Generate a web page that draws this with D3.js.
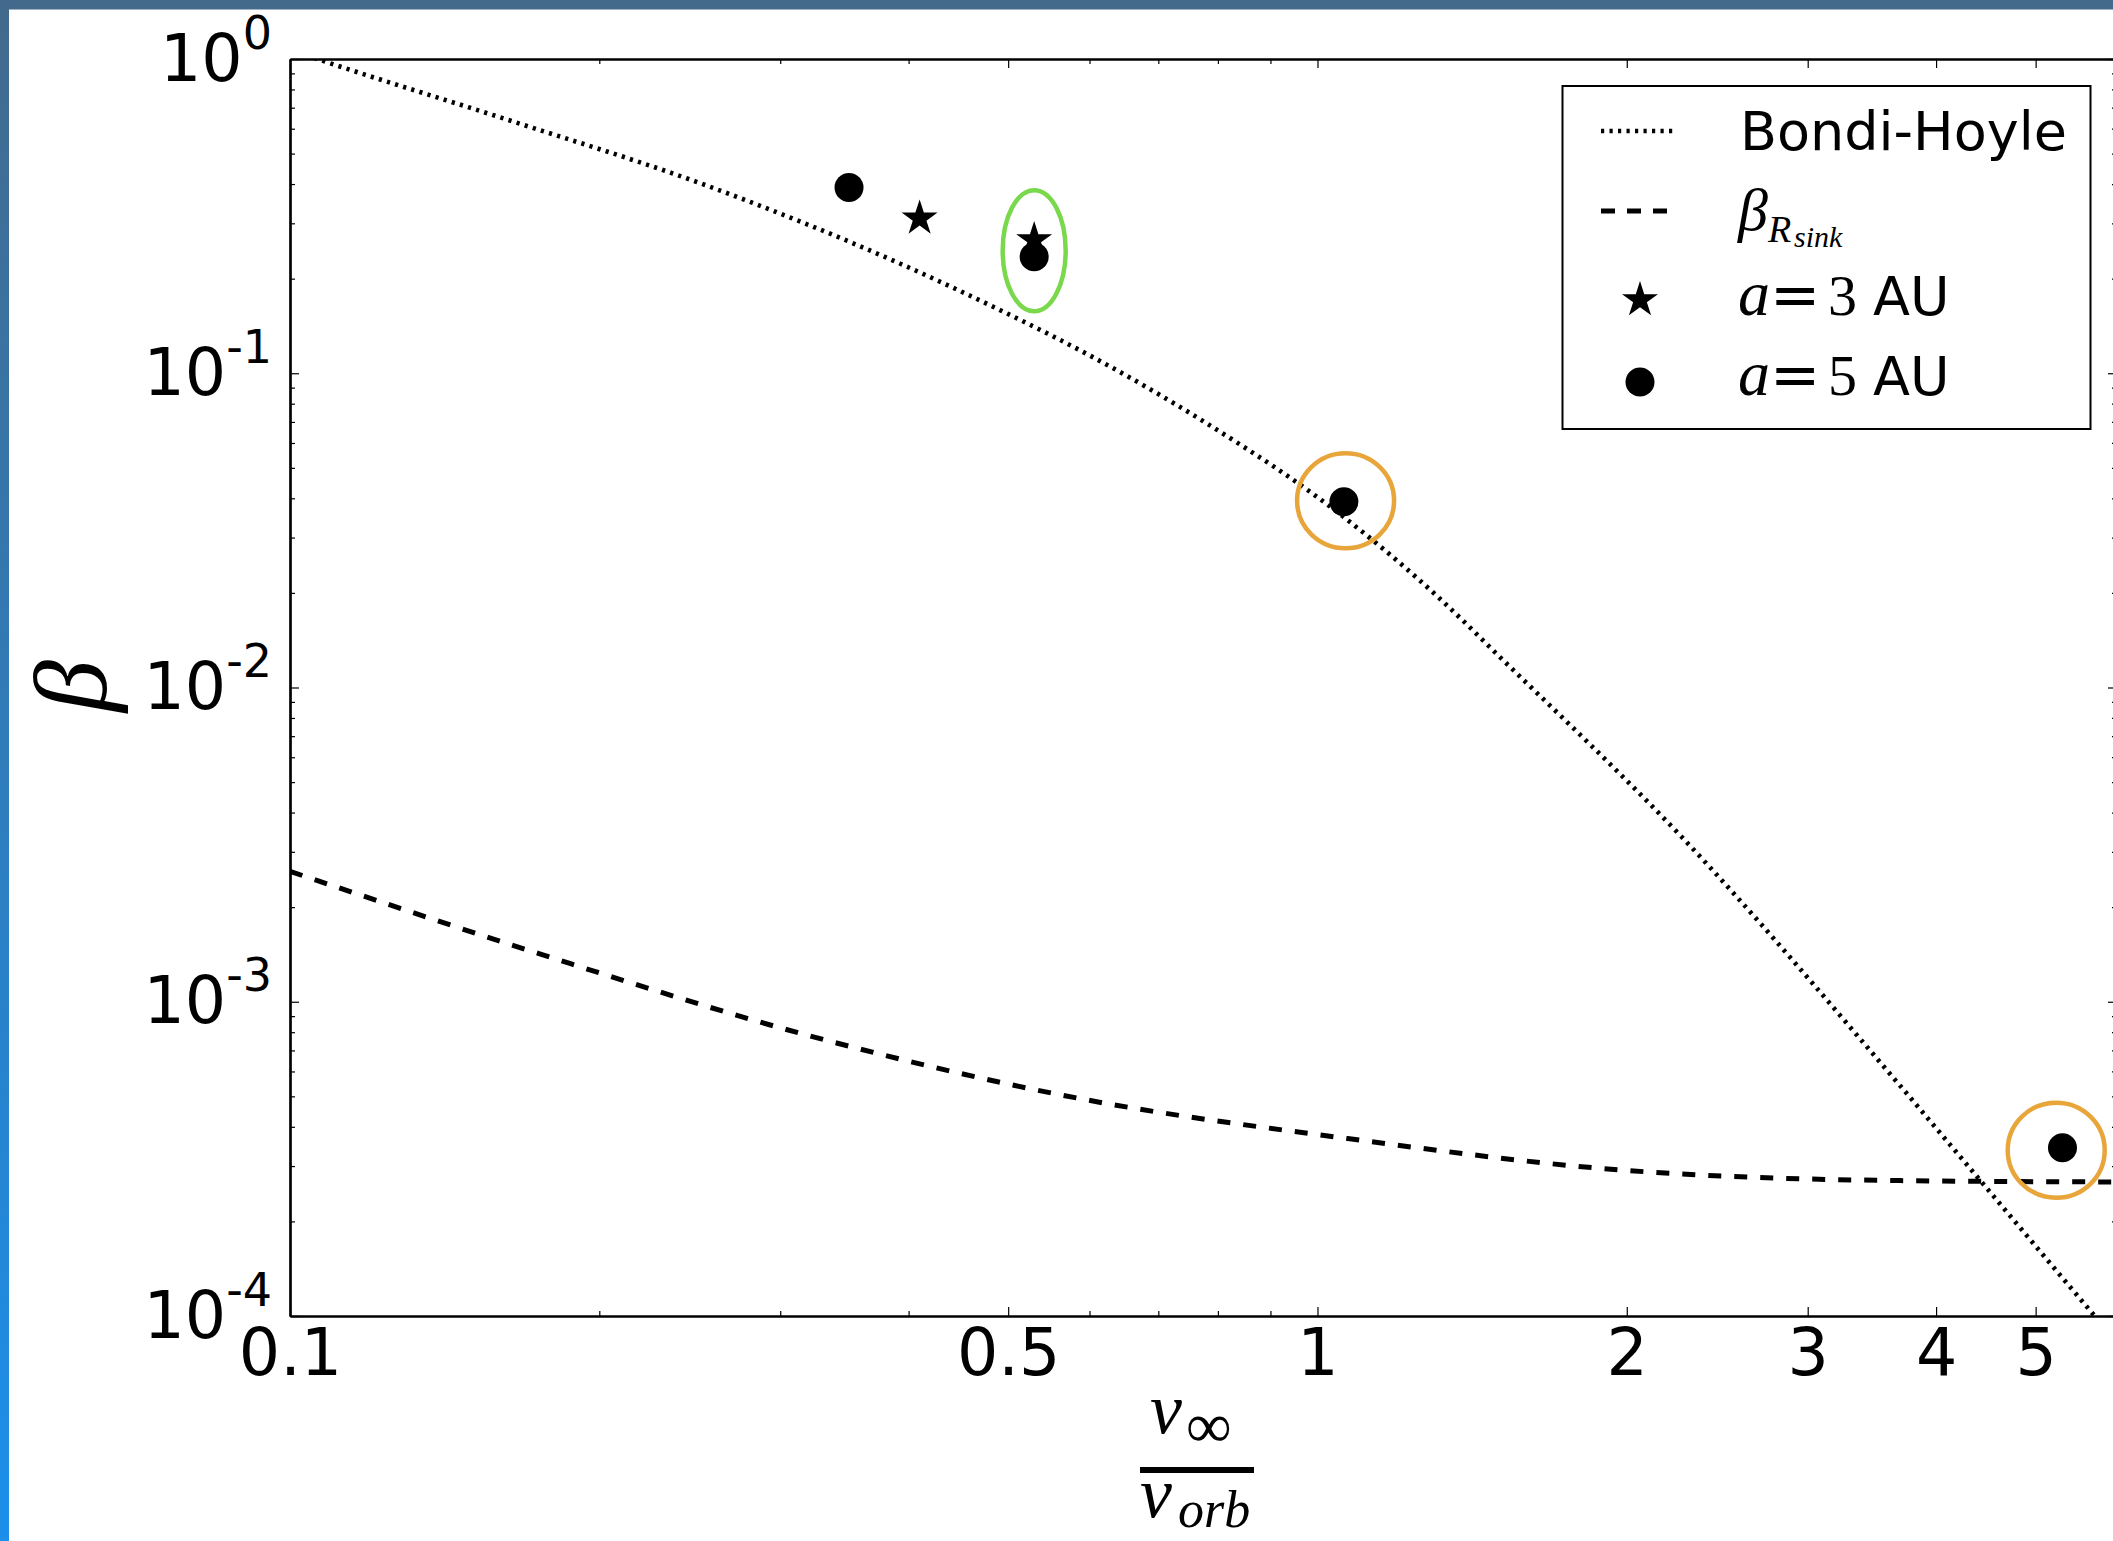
<!DOCTYPE html>
<html>
<head>
<meta charset="utf-8">
<script src="https://cdn.jsdelivr.net/npm/d3@7"></script>
<style>
  body { margin: 0; background: #fff; }
  svg { display: block; }
</style>
</head>
<body>
<svg id="chart"></svg>
<script>
// Bondi-Hoyle curve (dotted)
var bondiX = [0.1, 0.107, 0.163, 0.251, 0.283, 0.439, 0.676, 0.780, 1.059, 1.315, 1.504, 2.261, 3.686, 4.427, 5.664, 5.9];
var bondiY = [1.07, 0.993, 0.640, 0.402, 0.347, 0.189, 0.0918, 0.0693, 0.0350, 0.0192, 0.01253, 0.00335, 5.43e-4, 2.675e-4, 1.03e-4, 8.8e-5];

// beta_Rsink curve (dashed)
var sinkX = [0.1, 0.175, 0.32, 0.585, 1.07, 1.96, 3.58, 6.0];
var sinkY = [2.60e-3, 1.42e-3, 7.8e-4, 4.93e-4, 3.67e-4, 2.92e-4, 2.70e-4, 2.67e-4];

// simulations, a = 3 AU (stars) and a = 5 AU (dots)
var starX = [0.41, 0.53];
var starY = [0.311, 0.2655];
var dotX = [0.35, 0.53, 1.061, 5.31];
var dotY = [0.39, 0.235, 0.039, 3.43e-4];

// hand drawn rings on top of the chart
var ringX = [0.53, 1.065, 5.236];
var ringY = [0.2455, 0.0393, 3.37e-4];

// ticks
var xMajor = [0.1, 0.5, 1, 2, 3, 4, 5];
var xTickLabels = ["0.1", "0.5", "1", "2", "3", "4", "5"];
var xMinor = [0.2, 0.3, 0.4, 0.6, 0.7, 0.8, 0.9];
var yMajor = [1e-4, 1e-3, 1e-2, 1e-1, 1];
var yTickExp = ["-4", "-3", "-2", "-1", "0"];

var width = 2113, height = 1541;
var plotLeft = 290, plotRight = 2117, plotTop = 59, plotBottom = 1316;

var serif = "'Liberation Serif', 'DejaVu Serif', serif";
var sans = "'DejaVu Sans', sans-serif";

var svg = d3.select("#chart")
    .attr("width", width)
    .attr("height", height)
    .style("background", "#fff");

// slide frame: blue bars on the left and top
var defs = svg.append("defs");
var grad = defs.append("linearGradient")
    .attr("id", "frameGrad")
    .attr("x1", 0).attr("y1", 0).attr("x2", 0).attr("y2", 1);
grad.append("stop").attr("offset", "0%").attr("stop-color", "#436a8c");
grad.append("stop").attr("offset", "100%").attr("stop-color", "#1b8feb");

defs.append("clipPath").attr("id", "plotClip")
    .append("rect")
    .attr("x", plotLeft).attr("y", plotTop)
    .attr("width", plotRight - plotLeft).attr("height", plotBottom - plotTop);

svg.append("rect").attr("x", 0).attr("y", 0).attr("width", width).attr("height", 9.5).attr("fill", "#446a8b");
svg.append("rect").attr("x", 0).attr("y", 0).attr("width", 9).attr("height", height).attr("fill", "url(#frameGrad)");

var x = d3.scaleLog().domain([0.1, 6]).range([plotLeft, plotRight]);
var y = d3.scaleLog().domain([1e-4, 1]).range([plotBottom, plotTop]);

// minor y ticks from the log scale itself (2..9 of each decade)
var yMinor = y.ticks().filter(function(d) { return yMajor.indexOf(d) < 0; });

function styleAxis(g) {
    g.attr("font-family", sans).attr("font-size", 65);
    g.select(".domain").attr("stroke", "#000").attr("stroke-width", 2.2);
    g.selectAll(".tick line").attr("stroke", "#000").attr("stroke-width", 1.2);
    g.selectAll(".tick text").attr("fill", "#000");
}

// bottom axis with labels
svg.append("g")
    .attr("transform", "translate(0," + plotBottom + ")")
    .call(d3.axisBottom(x).tickValues(xMajor).tickSize(-9).tickSizeOuter(0).tickPadding(13)
        .tickFormat(function(d, i) { return xTickLabels[i]; }))
    .call(styleAxis);

svg.append("g")
    .attr("transform", "translate(0," + plotBottom + ")")
    .call(d3.axisBottom(x).tickValues(xMinor).tickSize(-5).tickSizeOuter(0).tickFormat(""))
    .call(styleAxis);

// top axis, ticks only
svg.append("g")
    .attr("transform", "translate(0," + plotTop + ")")
    .call(d3.axisTop(x).tickValues(xMajor).tickSize(-9).tickSizeOuter(0).tickFormat(""))
    .call(styleAxis);
svg.append("g")
    .attr("transform", "translate(0," + plotTop + ")")
    .call(d3.axisTop(x).tickValues(xMinor).tickSize(-5).tickSizeOuter(0).tickFormat(""))
    .call(styleAxis);

// left axis: 10^n labels
var yAxisG = svg.append("g")
    .attr("transform", "translate(" + plotLeft + ",0)")
    .call(d3.axisLeft(y).tickValues(yMajor).tickSize(-9).tickSizeOuter(0).tickPadding(18).tickFormat(""))
    .call(styleAxis);

yAxisG.selectAll(".tick text")
    .attr("dy", 21)
    .each(function(d, i) {
        var t = d3.select(this);
        t.append("tspan").text("10");
        t.append("tspan").attr("dy", -32).attr("font-size", 46).text(yTickExp[i]);
    });

svg.append("g")
    .attr("transform", "translate(" + plotLeft + ",0)")
    .call(d3.axisLeft(y).tickValues(yMinor).tickSize(-5).tickSizeOuter(0).tickFormat(""))
    .call(styleAxis);

// right axis, ticks only
svg.append("g")
    .attr("transform", "translate(" + plotRight + ",0)")
    .call(d3.axisRight(y).tickValues(yMajor).tickSize(-9).tickSizeOuter(0).tickFormat(""))
    .call(styleAxis);
svg.append("g")
    .attr("transform", "translate(" + plotRight + ",0)")
    .call(d3.axisRight(y).tickValues(yMinor).tickSize(-5).tickSizeOuter(0).tickFormat(""))
    .call(styleAxis);

// curves
var line = d3.line()
    .x(function(d) { return x(d[0]); })
    .y(function(d) { return y(d[1]); })
    .curve(d3.curveMonotoneX);

var plot = svg.append("g").attr("clip-path", "url(#plotClip)");

plot.append("path")
    .datum(d3.zip(bondiX, bondiY))
    .attr("d", line)
    .attr("fill", "none")
    .attr("stroke", "#000")
    .attr("stroke-width", 4.6)
    .attr("stroke-dasharray", "3.2,5.3");

plot.append("path")
    .datum(d3.zip(sinkX, sinkY))
    .attr("d", line)
    .attr("fill", "none")
    .attr("stroke", "#000")
    .attr("stroke-width", 5)
    .attr("stroke-dasharray", "13,13");

// markers
var star = d3.symbol().type(d3.symbolStar).size(400);

plot.selectAll(".dot")
    .data(d3.zip(dotX, dotY))
    .enter().append("circle")
    .attr("class", "dot")
    .attr("cx", function(d) { return x(d[0]); })
    .attr("cy", function(d) { return y(d[1]); })
    .attr("r", 14.5)
    .attr("fill", "#000");

plot.selectAll(".star")
    .data(d3.zip(starX, starY))
    .enter().append("path")
    .attr("class", "star")
    .attr("transform", function(d) { return "translate(" + x(d[0]) + "," + y(d[1]) + ")"; })
    .attr("d", star)
    .attr("fill", "#000");

// rings (first one is the green ellipse)
var ringColor = ["#7ad84c", "#e8a53a", "#e8a53a"];
var ringRx = [31.5, 48.5, 48.5];
var ringRy = [60.5, 47.5, 47.5];

svg.selectAll(".ring")
    .data(d3.zip(ringX, ringY))
    .enter().append("ellipse")
    .attr("class", "ring")
    .attr("cx", function(d) { return x(d[0]); })
    .attr("cy", function(d) { return y(d[1]); })
    .attr("rx", function(d, i) { return ringRx[i]; })
    .attr("ry", function(d, i) { return ringRy[i]; })
    .attr("fill", "none")
    .attr("stroke", function(d, i) { return ringColor[i]; })
    .attr("stroke-width", 4.5);

// legend
var legend = svg.append("g");

legend.append("rect")
    .attr("x", 1562.5).attr("y", 86)
    .attr("width", 528).attr("height", 343)
    .attr("fill", "#fff")
    .attr("stroke", "#000")
    .attr("stroke-width", 2);

legend.append("line")
    .attr("x1", 1601).attr("x2", 1675).attr("y1", 131).attr("y2", 131)
    .attr("stroke", "#000").attr("stroke-width", 4.6).attr("stroke-dasharray", "3.2,5.3");

legend.append("line")
    .attr("x1", 1601).attr("x2", 1668).attr("y1", 211).attr("y2", 211)
    .attr("stroke", "#000").attr("stroke-width", 5).attr("stroke-dasharray", "14,12");

legend.append("path")
    .attr("transform", "translate(1640,300)")
    .attr("d", star)
    .attr("fill", "#000");

legend.append("circle")
    .attr("cx", 1640).attr("cy", 382).attr("r", 14.5)
    .attr("fill", "#000");

legend.append("text")
    .attr("x", 1740).attr("y", 150)
    .attr("font-family", sans).attr("font-size", 54)
    .text("Bondi-Hoyle");

var sinkLabel = legend.append("text").attr("y", 230).attr("font-family", serif).attr("font-style", "italic");
sinkLabel.append("tspan").attr("x", 1738).attr("font-size", 60).text("β");
sinkLabel.append("tspan").attr("x", 1768).attr("y", 242).attr("font-size", 38).text("R");
sinkLabel.append("tspan").attr("x", 1794).attr("y", 247).attr("font-size", 30).text("sink");

function auLabel(yBase, n) {
    var t = legend.append("text").attr("y", yBase);
    t.append("tspan").attr("x", 1738).attr("font-family", serif).attr("font-style", "italic").attr("font-size", 64).text("a");
    t.append("tspan").attr("x", 1770).attr("font-family", sans).attr("font-size", 60).text("=");
    t.append("tspan").attr("x", 1828).attr("font-family", serif).attr("font-size", 58).text(n);
    t.append("tspan").attr("x", 1873).attr("font-family", sans).attr("font-size", 54).text("AU");
}
auLabel(315, "3");
auLabel(395, "5");

// y label
svg.append("text")
    .attr("transform", "translate(106,686) rotate(-90)")
    .attr("text-anchor", "middle")
    .attr("font-family", serif)
    .attr("font-style", "italic")
    .attr("font-size", 104)
    .text("β");

// x label: v_inf / v_orb
var xl = svg.append("g").attr("font-family", serif);
xl.append("text").attr("x", 1150).attr("y", 1433).attr("font-style", "italic").attr("font-size", 72).text("v");
xl.append("text").attr("x", 1186).attr("y", 1447).attr("font-size", 64).text("∞");
xl.append("rect").attr("x", 1140).attr("y", 1467).attr("width", 114).attr("height", 6).attr("fill", "#000");
xl.append("text").attr("x", 1140).attr("y", 1517).attr("font-style", "italic").attr("font-size", 72).text("v");
xl.append("text").attr("x", 1178).attr("y", 1527).attr("font-style", "italic").attr("font-size", 52).text("orb");
</script>
</body>
</html>
